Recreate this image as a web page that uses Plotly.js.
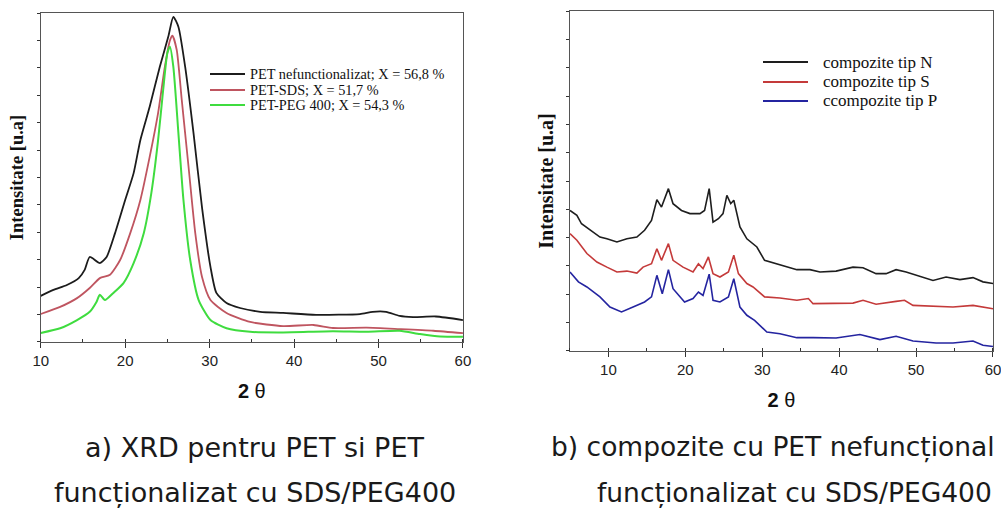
<!DOCTYPE html>
<html>
<head>
<meta charset="utf-8">
<script src="https://cdn.plot.ly/plotly-3.0.1.min.js"></script>
<style>html,body{margin:0;padding:0;background:#fff;}#chart{width:1001px;height:508px;}</style>
</head>
<body>
<div id="chart"></div>
<script>
// ---- Panel a) XRD for PET and functionalized PET ----
const aNames = ["PET nefunctionalizat; X = 56,8 %", "PET-SDS; X = 51,7 %", "PET-PEG 400; X = 54,3 %"];
const aBlackX = [10, 11.5, 13.1, 14.5, 15.2, 15.8, 17, 17.8, 18.8, 20, 21, 21.8, 22.9, 24.1, 25.1, 25.7, 26.3, 27.1, 28.1, 29.1, 30.1, 30.8, 32, 33.6, 36, 38.7, 42.6, 47.8, 49.3, 50.9, 52.5, 54.1, 56.8, 60];
const aBlackY = [1.68, 1.9, 2.08, 2.33, 2.63, 3.1, 2.88, 3.1, 3.97, 5.18, 6.16, 7.37, 8.58, 10.04, 11.13, 11.86, 11.5, 10.04, 7.6, 4.9, 2.74, 1.79, 1.42, 1.24, 1.1, 1.06, 0.99, 1.02, 1.1, 1.1, 0.95, 0.91, 0.93, 0.8];
const aRedX = [10, 12.3, 14.3, 15.8, 17, 18.2, 19.4, 20.6, 21.8, 22.9, 23.9, 24.7, 25.3, 25.6, 26.1, 26.7, 27.5, 28.3, 29.1, 30.1, 32, 34.8, 38.7, 42.3, 44.6, 48.6, 52.5, 56.5, 60];
const aRedY = [1.02, 1.28, 1.6, 1.97, 2.33, 2.45, 2.99, 3.97, 5.18, 6.75, 8.36, 10.04, 11.0, 11.17, 10.66, 8.83, 6.4, 3.97, 2.37, 1.53, 1.06, 0.73, 0.58, 0.62, 0.51, 0.52, 0.47, 0.41, 0.32];
const aGreenX = [10, 12.3, 14.3, 15.8, 16.6, 17, 17.6, 18.6, 19.8, 21, 22.2, 23.1, 23.9, 24.5, 25, 25.3, 25.7, 26.3, 26.9, 27.7, 28.7, 30.1, 32, 34.8, 38.7, 44.6, 48.6, 52.5, 54.9, 57.3, 60];
const aGreenY = [0.33, 0.5, 0.8, 1.1, 1.46, 1.72, 1.53, 1.79, 2.15, 2.88, 3.97, 5.44, 7.37, 9.2, 10.55, 10.77, 10.04, 7.63, 5.18, 2.99, 1.53, 0.8, 0.5, 0.37, 0.35, 0.39, 0.37, 0.41, 0.29, 0.2, 0.19];

// ---- Panel b) composites ----
const bNames = ["compozite tip N", "compozite tip S", "ccompozite tip P"];
const bNX = [5, 5.9, 6.5, 7.6, 8.9, 9.8, 11.1, 12.4, 13.7, 14.7, 15.6, 16.3, 16.9, 17.8, 18.4, 19.5, 20.6, 21.9, 22.5, 23.1, 23.6, 24.3, 24.9, 25.4, 25.9, 26.3, 27.1, 28, 29.3, 30.3, 31.9, 33.2, 34.5, 36.2, 37.5, 39.6, 41.8, 43.1, 44.8, 46.1, 47.4, 48.7, 50.5, 52.2, 53.9, 55.7, 57.4, 58.7, 60];
const bNY = [4.96, 4.79, 4.49, 4.26, 4.02, 3.96, 3.85, 3.96, 4.02, 4.26, 4.61, 5.34, 5.08, 5.73, 5.2, 4.96, 4.85, 4.85, 4.96, 5.73, 4.55, 4.67, 4.85, 5.49, 5.2, 5.32, 4.38, 3.96, 3.67, 3.2, 3.08, 2.96, 2.87, 2.87, 2.79, 2.82, 2.96, 2.94, 2.73, 2.73, 2.87, 2.79, 2.64, 2.49, 2.61, 2.52, 2.59, 2.44, 2.38];
const bSX = [5, 5.9, 7.2, 8.5, 9.8, 11.1, 12.4, 13.7, 14.5, 15.6, 16.3, 16.9, 17.8, 18.4, 19.7, 21, 21.7, 22.3, 23, 23.6, 24.5, 25.6, 26.3, 26.9, 28, 28.8, 30.3, 32.3, 34.5, 36, 36.6, 39.6, 41.8, 43.1, 44.8, 47.4, 48.5, 49.6, 52.6, 54.8, 57.4, 60];
const bSY = [4.14, 3.91, 3.44, 3.14, 2.96, 2.79, 2.82, 2.75, 2.96, 3.08, 3.61, 3.2, 3.79, 3.2, 2.96, 2.79, 3.08, 2.91, 3.32, 2.73, 2.61, 2.79, 3.38, 2.73, 2.38, 2.26, 1.91, 1.87, 1.79, 1.85, 1.67, 1.67, 1.69, 1.79, 1.65, 1.75, 1.79, 1.61, 1.58, 1.55, 1.61, 1.49];
const bPX = [5, 6.1, 7.2, 8.9, 10.2, 11.7, 13.2, 14.7, 15.6, 16.3, 17, 17.8, 18.4, 19.9, 21, 21.7, 22.3, 23.1, 23.6, 24.5, 25.6, 26.3, 27.1, 28, 29, 30.6, 32.3, 34.5, 36.6, 39.6, 42.7, 45.3, 47.4, 49.6, 52.6, 54.8, 57.4, 58.7, 60];
const bPY = [2.79, 2.44, 2.26, 1.91, 1.55, 1.38, 1.55, 1.73, 1.91, 2.67, 2.02, 2.87, 2.2, 1.73, 1.85, 2.08, 1.96, 2.71, 1.79, 1.73, 1.91, 2.55, 1.55, 1.26, 1.08, 0.67, 0.61, 0.47, 0.47, 0.46, 0.58, 0.4, 0.52, 0.35, 0.28, 0.28, 0.35, 0.2, 0.16];

const xTickVals = [10, 20, 30, 40, 50, 60];
const yTitle = "Intensitate [u.a]";
const xTitle = "<b>2</b> θ";
const captionA = ["a) XRD pentru PET si PET", "funcționalizat cu SDS/PEG400"];
const captionB = ["b) compozite cu PET nefuncțional", "funcționalizat cu SDS/PEG400"];

const aColors = ["#1c1c1c", "#bf5560", "#3fdc3f"];
const bColors = ["#1e1e1e", "#c43a3a", "#2424a0"];

const traces = [
  {x: aBlackX, y: aBlackY, name: aNames[0], line: {color: aColors[0], width: 1.8, shape: "spline", smoothing: 0.6}, xaxis: "x", yaxis: "y"},
  {x: aRedX, y: aRedY, name: aNames[1], line: {color: aColors[1], width: 1.8, shape: "spline", smoothing: 0.6}, xaxis: "x", yaxis: "y"},
  {x: aGreenX, y: aGreenY, name: aNames[2], line: {color: aColors[2], width: 2, shape: "spline", smoothing: 0.6}, xaxis: "x", yaxis: "y"},
  {x: bNX, y: bNY, name: bNames[0], line: {color: bColors[0], width: 1.6}, xaxis: "x2", yaxis: "y2"},
  {x: bSX, y: bSY, name: bNames[1], line: {color: bColors[1], width: 1.6}, xaxis: "x2", yaxis: "y2"},
  {x: bPX, y: bPY, name: bNames[2], line: {color: bColors[2], width: 1.6}, xaxis: "x2", yaxis: "y2"}
].map(t => Object.assign({type: "scatter", mode: "lines", hoverinfo: "skip", showlegend: false}, t));

const W = 1001, H = 508;
const tickFont = {family: "Liberation Sans, Arial, sans-serif", size: 15, color: "#222"};
function xAxis(domain, range, anchor) {
  return {
    domain: domain, range: range, anchor: anchor,
    tickvals: xTickVals, ticks: "outside", ticklen: 5, tickwidth: 1, tickcolor: "#333",
    minor: {dtick: 5, tick0: 0, ticks: "inside", ticklen: 3, tickcolor: "#333", showgrid: false},
    showline: true, linecolor: "#555", linewidth: 1.2, mirror: true,
    showgrid: false, zeroline: false, tickfont: tickFont, ticklabeloverflow: "allow",
    title: {text: xTitle, font: {family: "Liberation Sans, Arial, sans-serif", size: 20, color: "#111"}, standoff: 15},
    automargin: false
  };
}
function yAxis(domain, anchor, size, standoff) {
  return {
    domain: domain, range: [0, 12], dtick: 1, tick0: 0, anchor: anchor,
    ticks: "outside", ticklen: 3, tickwidth: 1, tickcolor: "#333", showticklabels: false,
    showline: true, linecolor: "#555", linewidth: 1.2, mirror: true,
    showgrid: false, zeroline: false,
    title: {text: yTitle, font: {family: "Liberation Serif, Times New Roman, serif", size: size, color: "#111", weight: "bold"}, standoff: standoff},
    automargin: false
  };
}

// custom legends (swatch line + label), positions in pixels of the page
function legendParts(names, colors, x0, x1, xText, rowsY, fontSize) {
  const shapes = [], anns = [];
  names.forEach((n, i) => {
    shapes.push({type: "line", xref: "paper", yref: "paper", x0: x0 / W, x1: x1 / W, y0: 1 - rowsY[i] / H, y1: 1 - rowsY[i] / H,
                 line: {color: colors[i], width: 2}});
    anns.push({text: n, xref: "paper", yref: "paper", x: xText / W, y: 1 - rowsY[i] / H, xanchor: "left", yanchor: "middle",
               showarrow: false, font: {family: "Liberation Serif, Times New Roman, serif", size: fontSize, color: "#111"}});
  });
  return {shapes, anns};
}
const legA = legendParts(aNames, aColors, 210, 245, 248, [74, 90, 105], 14.3);
const legB = legendParts(bNames, bColors, 763, 808, 821, [62, 82, 101], 17);

const capFont = {family: "DejaVu Sans, sans-serif", size: 27, color: "#1a1a1a"};
const capFontB = {family: "DejaVu Sans, sans-serif", size: 26.5, color: "#1a1a1a"};
const layout = {
  width: W, height: H,
  margin: {l: 0, r: 0, t: 0, b: 0},
  paper_bgcolor: "#ffffff", plot_bgcolor: "#ffffff",
  showlegend: false,
  xaxis: xAxis([0.0407, 0.4625], [10, 60], "y"),
  yaxis: yAxis([0.3268, 0.9744], "x", 18.5, 8),
  xaxis2: xAxis([0.5694, 0.9920], [5, 60], "y2"),
  yaxis2: yAxis([0.3091, 0.9783], "x2", 20, 6),
  shapes: legA.shapes.concat(legB.shapes),
  annotations: legA.anns.concat(legB.anns).concat([
    {text: captionA[0], xref: "paper", yref: "paper", x: 255 / W, y: 1 - 447 / H, xanchor: "center", yanchor: "middle", showarrow: false, font: capFont},
    {text: captionA[1], xref: "paper", yref: "paper", x: 255 / W, y: 1 - 493 / H, xanchor: "center", yanchor: "middle", showarrow: false, font: capFont},
    {text: captionB[0], xref: "paper", yref: "paper", x: 549 / W, y: 1 - 447 / H, xanchor: "left", yanchor: "middle", showarrow: false, font: capFontB},
    {text: captionB[1], xref: "paper", yref: "paper", x: 595 / W, y: 1 - 493 / H, xanchor: "left", yanchor: "middle", showarrow: false, font: capFontB}
  ])
};

Plotly.newPlot("chart", traces, layout, {staticPlot: true, displayModeBar: false});
</script>
</body>
</html>
